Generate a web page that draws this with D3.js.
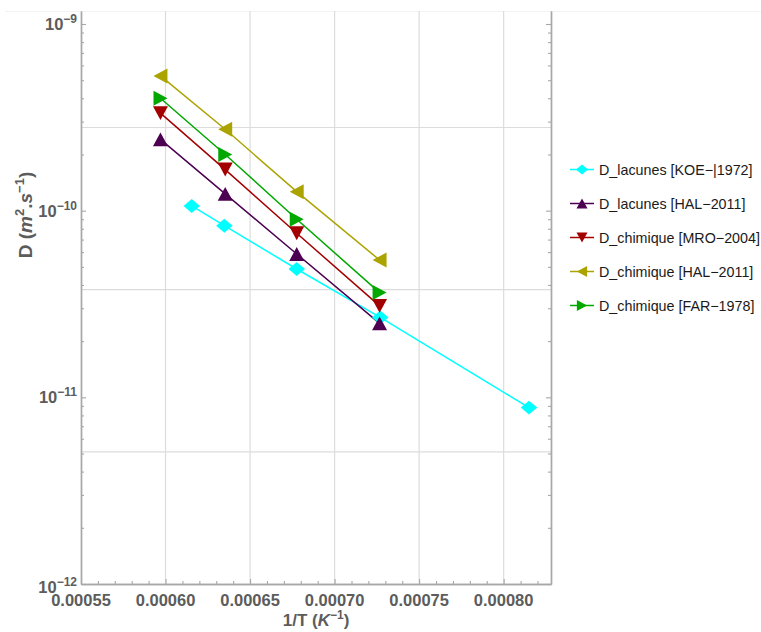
<!DOCTYPE html>
<html><head><meta charset="utf-8">
<script src="https://cdn.jsdelivr.net/npm/d3@7"></script>
<style>
html,body{margin:0;padding:0;background:#fff;}
svg{display:block;font-family:"Liberation Sans",Arial,sans-serif;}
</style></head>
<body><svg id="c" width="761" height="632"></svg>
<script>
// ---- data ----
const seriesNames = ["D_lacunes [KOE\u2212|1972]","D_lacunes [HAL\u22122011]","D_chimique [MRO\u22122004]","D_chimique [HAL\u22122011]","D_chimique [FAR\u22121978]"];
const koeX = [0.0006155, 0.0006348, 0.0006776, 0.000727, 0.000815];
const koeY = [1.06e-10, 8.31e-11, 4.87e-11, 2.68e-11, 8.81e-12];
const commonX = [0.000597, 0.0006353, 0.0006776, 0.0007266];
const halLacY = [2.41e-10, 1.23e-10, 5.86e-11, 2.49e-11];
const mroY = [3.33e-10, 1.66e-10, 7.57e-11, 3.09e-11];
const halChimY = [5.27e-10, 2.73e-10, 1.264e-10, 5.44e-11];
const farY = [4.00e-10, 2.00e-10, 9.0e-11, 3.64e-11];
const xTickValues = [0.00055, 0.0006, 0.00065, 0.0007, 0.00075, 0.0008];
const xTickLabels = ["0.00055","0.00060","0.00065","0.00070","0.00075","0.00080"];
const yTickExps = [-12, -11, -10, -9];
const yGridValues = [Math.exp(-22), Math.exp(-24), Math.exp(-26)];

// ---- styles ----
const colors = ["#00ffff", "#4d0052", "#a30000", "#aba300", "#00a800"];
const shapes = ["diamond", "up", "down", "left", "right"];

const series = [
  {x: koeX, y: koeY},
  {x: commonX, y: halLacY},
  {x: commonX, y: mroY},
  {x: commonX, y: halChimY},
  {x: commonX, y: farY}
].map((s, i) => ({name: seriesNames[i], color: colors[i], shape: shapes[i],
  pts: s.x.map((v, j) => [v, s.y[j]])}));

const svg = d3.select("#c");
const L = 81, R = 551, T = 11, B = 584;
const x = d3.scaleLinear().domain([0.00055, 0.000828]).range([L, R]);
const y = d3.scaleLog().domain([1e-12, 1.174e-9]).range([B, T]);

// faint top line
svg.append("line").attr("x1", 5).attr("x2", 761).attr("y1", T + 0.5).attr("y2", T + 0.5)
  .attr("stroke", "#f3f3f3").attr("stroke-width", 1);

// grid
const gridCol = "#dcdcdc";
svg.append("g").selectAll("line").data(xTickValues.slice(1)).join("line")
  .attr("x1", d => x(d)).attr("x2", d => x(d)).attr("y1", T).attr("y2", B)
  .attr("stroke", gridCol).attr("stroke-width", 1.2);
svg.append("g").selectAll("line").data(yGridValues).join("line")
  .attr("x1", L).attr("x2", R).attr("y1", d => y(d)).attr("y2", d => y(d))
  .attr("stroke", gridCol).attr("stroke-width", 1.2);

// axes
const axCol = "#a8a8a8";
const yMajor = yTickExps.map(e => Math.pow(10, e));
const yMinor = [];
for (let e = -12; e <= -9; e++) for (let m = 2; m <= 9; m++) { const v = m * Math.pow(10, e); if (v <= 1.174e-9) yMinor.push(v); }
const xMinor = d3.range(56, 83).map(k => k * 1e-5).filter(v => !xTickValues.some(t => Math.abs(t - v) < 1e-9));

function styleAxis(g) {
  g.selectAll("path.domain").attr("stroke", axCol).attr("stroke-width", 1.4);
  g.selectAll(".tick line").attr("stroke", axCol).attr("stroke-width", 1.1);
  g.selectAll(".tick text").remove();
}
svg.append("g").attr("transform", `translate(${L},0)`)
  .call(d3.axisLeft(y).tickValues(yMajor).tickSizeInner(-5).tickSizeOuter(0)).call(styleAxis);
svg.append("g").attr("transform", `translate(${L},0)`)
  .call(d3.axisLeft(y).tickValues(yMinor).tickSizeInner(-3).tickSizeOuter(0)).call(styleAxis);
svg.append("g").attr("transform", `translate(${R},0)`)
  .call(d3.axisRight(y).tickValues(yMajor).tickSizeInner(-5).tickSizeOuter(0)).call(styleAxis);
svg.append("g").attr("transform", `translate(${R},0)`)
  .call(d3.axisRight(y).tickValues(yMinor).tickSizeInner(-3).tickSizeOuter(0)).call(styleAxis);
svg.append("g").attr("transform", `translate(0,${B})`)
  .call(d3.axisBottom(x).tickValues(xTickValues).tickSizeInner(-5).tickSizeOuter(0)).call(styleAxis);
svg.append("g").attr("transform", `translate(0,${B})`)
  .call(d3.axisBottom(x).tickValues(xMinor).tickSizeInner(-3).tickSizeOuter(0)).call(styleAxis);

// tick labels
const labCol = "#5c5c5c";
svg.append("g").selectAll("text").data(xTickValues).join("text")
  .attr("x", d => x(d)).attr("y", 606).attr("text-anchor", "middle")
  .attr("font-size", 16.5).attr("font-weight", "bold").attr("fill", labCol)
  .text((d, i) => xTickLabels[i]);

const yl = svg.append("g").selectAll("text").data(yTickExps).join("text")
  .attr("x", 77).attr("y", d => y(Math.pow(10, d)) + (d === -12 ? 9 : 6))
  .attr("text-anchor", "end").attr("font-size", 16.5).attr("font-weight", "bold").attr("fill", labCol);
yl.append("tspan").text("10");
yl.append("tspan").attr("dy", -7).attr("font-size", 12).text(d => "\u2212" + (-d));

// axis titles
const xt = svg.append("text").attr("x", 316).attr("y", 626).attr("text-anchor", "middle")
  .attr("font-size", 17).attr("font-weight", "bold").attr("fill", labCol);
xt.append("tspan").text("1/T (");
xt.append("tspan").attr("font-style", "italic").text("K");
xt.append("tspan").attr("dy", -7).attr("font-size", 12).text("\u22121");
xt.append("tspan").attr("dy", 7).text(")");

const ytt = svg.append("text").attr("transform", "translate(32,215) rotate(-90)").attr("text-anchor", "middle")
  .attr("font-size", 19).attr("font-weight", "bold").attr("fill", labCol);
ytt.append("tspan").text("D (");
ytt.append("tspan").attr("font-style", "italic").text("m");
ytt.append("tspan").attr("dy", -8).attr("font-size", 13).text("2");
ytt.append("tspan").attr("dy", 8).text(".");
ytt.append("tspan").attr("font-style", "italic").text("s");
ytt.append("tspan").attr("dy", -8).attr("font-size", 13).text("\u22121");
ytt.append("tspan").attr("dy", 8).text(")");

// marker path generator (centered on bounding box)
function markerPath(shape, s) {
  const w = s, h = s * 0.93, hw = w / 2, hh = h / 2;
  switch (shape) {
    case "diamond": return `M0,${-hh}L${hw * 1.1},0L0,${hh}L${-hw * 1.1},0Z`;
    case "up": return `M0,${-hh}L${hw},${hh}L${-hw},${hh}Z`;
    case "down": return `M0,${hh}L${hw},${-hh}L${-hw},${-hh}Z`;
    case "left": return `M${-hh},0L${hh},${-hw}L${hh},${hw}Z`;
    case "right": return `M${hh},0L${-hh},${-hw}L${-hh},${hw}Z`;
  }
}

// lines
const line = d3.line().x(d => x(d[0])).y(d => y(d[1]));
svg.append("g").selectAll("path").data(series).join("path")
  .attr("d", d => line(d.pts)).attr("fill", "none")
  .attr("stroke", d => d.color).attr("stroke-width", 1.5);

// markers
const mg = svg.append("g");
series.forEach(s => {
  mg.append("g").selectAll("path").data(s.pts).join("path")
    .attr("transform", d => `translate(${x(d[0])},${y(d[1])})`)
    .attr("d", markerPath(s.shape, 15)).attr("fill", s.color);
});

// legend
const legY = [169.5, 203.5, 237.5, 271.5, 305.5];
const lg = svg.append("g").selectAll("g").data(series).join("g")
  .attr("transform", (d, i) => `translate(0,${legY[i]})`);
lg.append("line").attr("x1", 570).attr("x2", 594).attr("y1", 0).attr("y2", 0)
  .attr("stroke", d => d.color).attr("stroke-width", 1.5);
lg.append("path").attr("transform", "translate(582,0)")
  .attr("d", d => markerPath(d.shape, 11)).attr("fill", d => d.color);
lg.append("text").attr("x", 599).attr("y", 5).attr("font-size", 14.3).attr("fill", "#1a1a1a")
  .text(d => d.name);
</script></body></html>
